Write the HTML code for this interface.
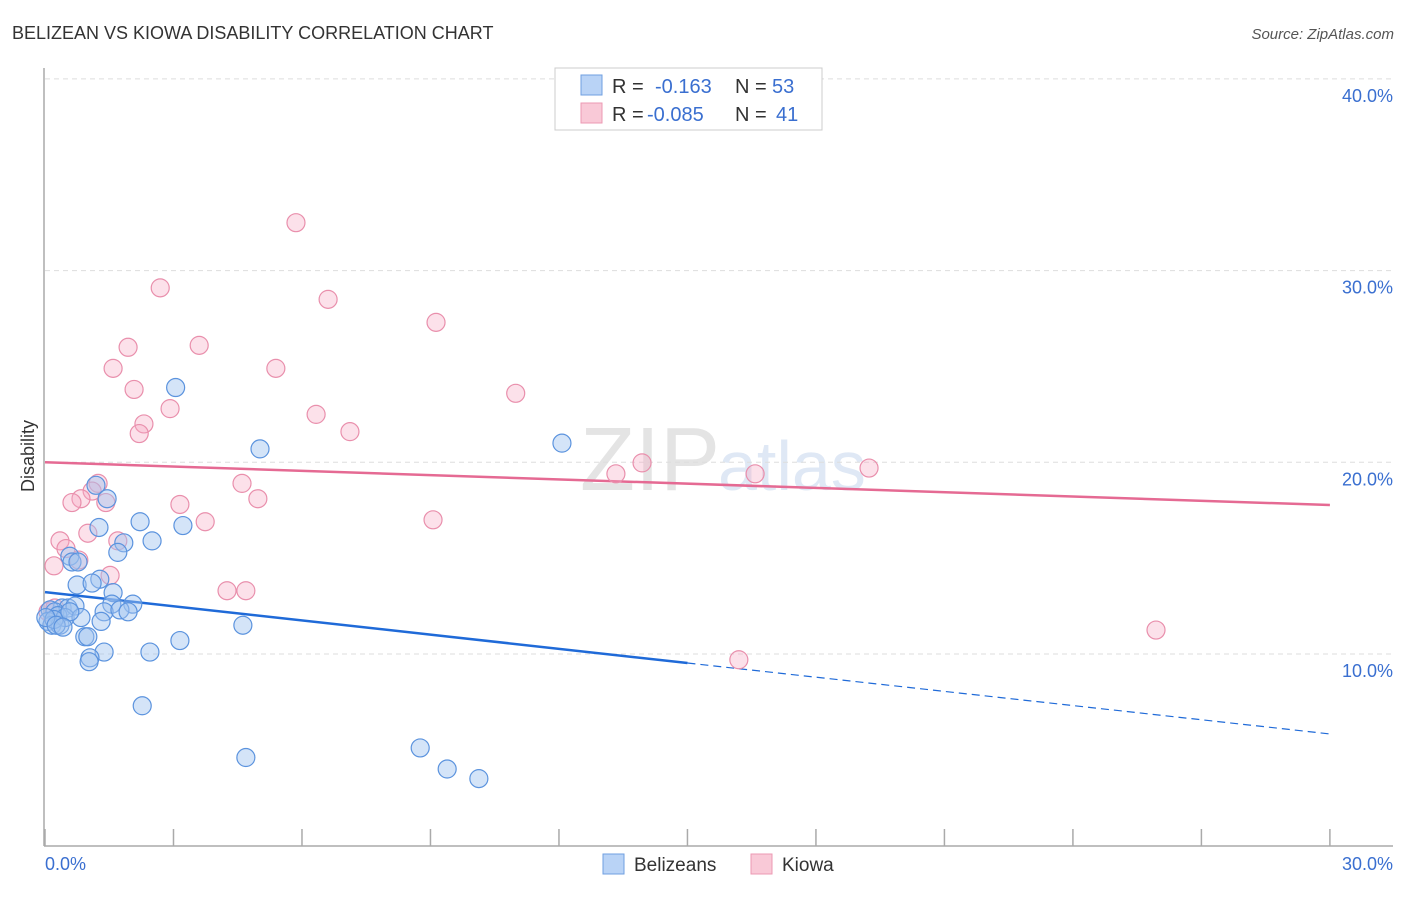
<!DOCTYPE html>
<html><head><meta charset="utf-8"><style>
body{margin:0;background:#fff;font-family:"Liberation Sans",sans-serif}
svg text{font-family:"Liberation Sans",sans-serif}
</style></head><body>
<svg id="chart" width="1406" height="892" xmlns="http://www.w3.org/2000/svg">
<text x="12" y="39" font-size="18" fill="#333">BELIZEAN VS KIOWA DISABILITY CORRELATION CHART</text>
<text x="1394" y="39" font-size="15" font-style="italic" fill="#555" text-anchor="end">Source: ZipAtlas.com</text>
<text x="720" y="490" font-size="90" font-family="Liberation Serif" fill="#e4e4e4" text-anchor="end">ZIP</text>
<text x="718" y="490" font-size="70" fill="#dfe8f5">atlas</text>
<g id="grid"></g><g id="axes"></g><g id="trend"></g><g id="pts"></g>
<text x="34" y="456" font-size="18" fill="#333" transform="rotate(-90 34 456)" text-anchor="middle">Disability</text>
<g>
<rect x="555" y="68" width="267" height="62" fill="#fff" stroke="#ccc"/>
<rect x="581" y="75" width="21" height="20" fill="#b9d3f6" stroke="#6f9fe0"/>
<rect x="581" y="103" width="21" height="20" fill="#f9c9d7" stroke="#ec99b3"/>
<text x="612" y="93" font-size="20" fill="#333">R =</text><text x="655" y="93" font-size="20" fill="#3a6fd0">-0.163</text>
<text x="735" y="93" font-size="20" fill="#333">N =</text><text x="772" y="93" font-size="20" fill="#3a6fd0">53</text>
<text x="612" y="121" font-size="20" fill="#333">R =</text><text x="647" y="121" font-size="20" fill="#3a6fd0">-0.085</text>
<text x="735" y="121" font-size="20" fill="#333">N =</text><text x="776" y="121" font-size="20" fill="#3a6fd0">41</text>
</g>
<g>
<rect x="603" y="854" width="21" height="20" fill="#b9d3f6" stroke="#6f9fe0"/>
<text x="634" y="871" font-size="19" fill="#333">Belizeans</text>
<rect x="751" y="854" width="21" height="20" fill="#f9c9d7" stroke="#ec99b3"/>
<text x="782" y="871" font-size="19" fill="#333">Kiowa</text>
</g>
<text x="45" y="870" font-size="18" fill="#3a6fd0">0.0%</text>
<text x="1393" y="870" font-size="18" fill="#3a6fd0" text-anchor="end">30.0%</text>
</svg>
<script>
const yTicks=[10,20,30,40];
const yTickLabels=["10.0%","20.0%","30.0%","40.0%"];
const xTicks=[0,3,6,9,12,15,18,21,24,27,30];
const blueX=[3.05,5.02,12.07,1.19,1.45,1.26,2.22,3.22,2.50,1.84,1.70,0.58,0.63,0.77,0.75,1.28,1.10,1.59,1.56,2.05,1.38,1.75,1.94,0.40,0.54,0.70,0.12,0.23,0.30,0.07,0.16,0.35,0.47,0.84,1.31,0.93,1.00,3.15,4.62,2.45,1.38,1.05,1.03,2.27,4.69,8.76,9.39,10.13,0.21,0.02,0.58,0.26,0.42];
const blueY=[23.9,20.7,21.0,18.8,18.1,16.6,16.9,16.7,15.9,15.8,15.3,15.1,14.8,14.8,13.6,13.9,13.7,13.2,12.6,12.6,12.2,12.3,12.2,12.4,12.4,12.5,12.3,12.2,12.0,11.7,11.5,11.5,11.9,11.9,11.7,10.9,10.9,10.7,11.5,10.1,10.1,9.8,9.6,7.3,4.6,5.1,4.0,3.5,11.8,11.9,12.2,11.5,11.4];
const pinkX=[5.86,2.69,6.61,9.13,1.94,3.60,1.59,5.39,2.08,10.99,2.92,6.33,2.31,2.20,7.12,19.24,13.94,13.33,16.58,1.24,4.60,1.10,0.84,0.63,4.97,1.42,3.15,3.74,9.06,1.00,1.70,0.35,0.49,0.79,0.21,1.52,4.25,4.69,25.94,16.20,0.07,0.23];
const pinkY=[32.5,29.1,28.5,27.3,26.0,26.1,24.9,24.9,23.8,23.6,22.8,22.5,22.0,21.5,21.6,19.7,19.97,19.4,19.4,18.9,18.9,18.5,18.1,17.9,18.1,17.9,17.8,16.9,17.0,16.3,15.9,15.9,15.5,14.9,14.6,14.1,13.3,13.3,11.25,9.7,12.2,12.4];
const blueTrend=[13.23,5.83]; // value at x=0 and x=30
const blueSolidEnd=15;
const pinkTrend=[20.0,17.77];
const NS="http://www.w3.org/2000/svg";
const sx=v=>45+v*42.83, sy=v=>845.7-v*19.17;
function mk(t,a,p){const e=document.createElementNS(NS,t);for(const k in a)e.setAttribute(k,a[k]);document.getElementById(p).appendChild(e);return e;}
yTicks.forEach((t,i)=>{
 const l=mk('line',{x1:45,x2:1393,y1:sy(t),y2:sy(t),stroke:'#ddd','stroke-dasharray':'5,4'},'grid');
 
 
 const tx=mk('text',{x:1393,y:sy(t)+23,'font-size':18,fill:'#3a6fd0','text-anchor':'end'},'grid');
 tx.textContent=yTickLabels[i];
 
 
});
const ax=mk('line',{x1:44,x2:44,y1:68,y2:846,stroke:'#aaa','stroke-width':1.5},'axes');


const bx=mk('line',{x1:44,x2:1393,y1:846,y2:846,stroke:'#aaa','stroke-width':1.5},'axes');


xTicks.forEach(t=>{
 const l=mk('line',{x1:sx(t),x2:sx(t),y1:829,y2:846,stroke:'#aaa','stroke-width':1.5},'axes');
 
 
});
const bAt=x=>blueTrend[0]+(blueTrend[1]-blueTrend[0])*x/30;
const pAt=x=>pinkTrend[0]+(pinkTrend[1]-pinkTrend[0])*x/30;
const pt=mk('line',{x1:sx(0),y1:sy(pAt(0)),x2:sx(30),y2:sy(pAt(30)),stroke:'#e56a93','stroke-width':2.5},'trend');


const bs=mk('line',{x1:sx(0),y1:sy(bAt(0)),x2:sx(blueSolidEnd),y2:sy(bAt(blueSolidEnd)),stroke:'#1f6ad8','stroke-width':2.5},'trend');


const bd=mk('line',{x1:sx(blueSolidEnd),y1:sy(bAt(blueSolidEnd)),x2:sx(30),y2:sy(bAt(30)),stroke:'#1f6ad8','stroke-width':1.2,'stroke-dasharray':'8,5'},'trend');


pinkX.forEach((x,i)=>{
 const c=mk('circle',{cx:sx(x),cy:sy(pinkY[i]),r:9,fill:'rgba(245,170,195,0.35)',stroke:'#e98fac','stroke-width':1.2},'pts');
 
 
});
blueX.forEach((x,i)=>{
 const c=mk('circle',{cx:sx(x),cy:sy(blueY[i]),r:9,fill:'rgba(160,195,240,0.45)',stroke:'#5b93de','stroke-width':1.2},'pts');
 
 
});
</script>
</body></html>
